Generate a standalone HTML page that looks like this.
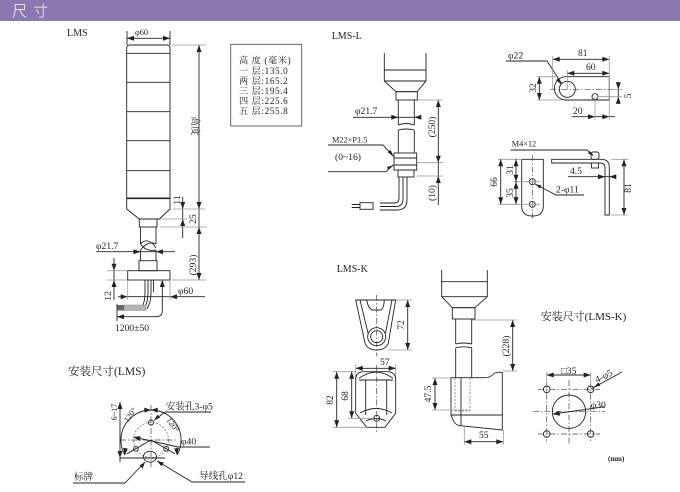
<!DOCTYPE html>
<html><head><meta charset="utf-8"><style>
html,body{margin:0;padding:0;background:#fff;}
svg{display:block;}
text{font-family:"Liberation Serif","Noto Serif CJK SC",serif;fill:#222;}
.s{fill:none;stroke:#222;stroke-width:0.9;}
.g{fill:none;stroke:#999;stroke-width:0.8;}
.d{fill:none;stroke:#444;stroke-width:0.7;stroke-dasharray:6 2 1.5 2;}
.h{fill:none;stroke:#666;stroke-width:0.7;stroke-dasharray:2 1.5;}
.a{fill:#222;stroke:none;}
.t9{font-size:9.6px;}
.t8{font-size:8.3px;}
</style></head><body>
<svg width="680" height="492" viewBox="0 0 680 492" xmlns="http://www.w3.org/2000/svg">
<rect x="0" y="0" width="680" height="492" fill="#fff"/>
<!-- header -->
<rect x="0" y="0" width="680" height="21" fill="#8a79b1"/>
<text x="12" y="16" style="font-family:'Noto Sans CJK SC',sans-serif;font-size:15px;font-weight:300;fill:#fff;">尺</text>
<text x="33" y="16" style="font-family:'Noto Sans CJK SC',sans-serif;font-size:15px;font-weight:300;fill:#fff;">寸</text>

<!-- ===== LMS ===== -->
<text x="67" y="36" style="font-size:10px">LMS</text>
<!-- tower -->
<path class="s" d="M126.7,48 Q126.7,45 129.7,45 L167,45 Q170,45 170,48 L170,209 L159.3,219 L139.3,219 L126.7,209 Z"/>
<g class="s"><line x1="126.7" y1="53.3" x2="170" y2="53.3"/><line x1="126.7" y1="82.3" x2="170" y2="82.3"/><line x1="126.7" y1="111.7" x2="170" y2="111.7"/><line x1="126.7" y1="140.7" x2="170" y2="140.7"/><line x1="126.7" y1="170.7" x2="170" y2="170.7"/><line x1="126.7" y1="198.3" x2="170" y2="198.3" style="stroke-width:1.6"/></g>
<rect class="s" x="139.3" y="219" width="17.7" height="8"/>
<path class="s" d="M140.5,227 L140.5,244 M156,227 L156,244 M140.5,250 L140.5,260.7 M156,250 L156,260.7"/>
<path class="s" d="M140.5,244 Q148,236 156,248 M140.5,250 Q148,240 156,244 M140.5,244 Q146,252 156,250"/>
<rect class="s" x="139" y="260.7" width="18" height="10"/>
<rect class="s" x="127.7" y="270.7" width="42.3" height="9.3"/>
<path class="s" d="M145,280 L145,293 Q145,300 143,305 M148,280 L148,293 Q148,301 145,307 M151,280 L151,293 Q151,302 147,309 M153.5,280 L153.5,292"/>
<rect x="124" y="305" width="22" height="5.5" fill="#b5b5b5" stroke="#888" stroke-width="0.5"/>
<rect x="117" y="305" width="7" height="5.5" fill="#666"/>
<!-- dims LMS -->
<g class="s">
<line x1="127" y1="38.3" x2="170" y2="38.3"/><line x1="127" y1="31" x2="127" y2="45"/><line x1="170" y1="31" x2="170" y2="45"/>
<line x1="199" y1="45" x2="199" y2="280"/>
<line x1="182.7" y1="197" x2="182.7" y2="238"/>
<line x1="96" y1="251.7" x2="175" y2="251.7"/>
<line x1="114" y1="258" x2="114" y2="300"/>
<line x1="118" y1="296.7" x2="205" y2="296.7"/>
<path d="M162.3,280 L162.3,311 Q162.3,316.7 156,316.7 L117,316.7"/>
<line x1="117" y1="304" x2="117" y2="321"/>
</g>
<g class="g">
<line x1="172" y1="45" x2="206" y2="45"/>
<line x1="173" y1="209" x2="205" y2="209"/>
<line x1="160" y1="219" x2="187" y2="219"/>
<line x1="160" y1="227" x2="207" y2="227"/>
<line x1="172" y1="280" x2="206" y2="280"/>
<line x1="107" y1="270.7" x2="127" y2="270.7"/><line x1="107" y1="280" x2="127" y2="280"/>
<line x1="127.7" y1="280" x2="127.7" y2="300"/><line x1="170" y1="280" x2="170" y2="300"/>
</g>
<g class="a">
<polygon points="127,38.3 134,35.8 134,40.8"/><polygon points="170,38.3 163,35.8 163,40.8"/>
<polygon points="199,45 196.5,52 201.5,52"/><polygon points="199,209 196.5,202 201.5,202"/>
<polygon points="199,227 196.5,234 201.5,234"/><polygon points="199,280 196.5,273 201.5,273"/>
<polygon points="182.7,209 180.2,202 185.2,202"/><polygon points="182.7,219 180.2,226 185.2,226"/>
<polygon points="140.5,251.7 133.5,249.2 133.5,254.2"/><polygon points="156,251.7 163,249.2 163,254.2"/>
<polygon points="114,270.7 111.5,263.7 116.5,263.7"/><polygon points="114,280 111.5,287 116.5,287"/>
<polygon points="127.7,296.7 120.7,294.2 120.7,299.2"/><polygon points="170,296.7 177,294.2 177,299.2"/>
<polygon points="162.3,280 159.8,287 164.8,287"/><polygon points="117,316.7 124,314.2 124,319.2"/>
</g>
<text x="135" y="35" class="t8">φ60</text>
<text transform="translate(192,126) rotate(90)" class="t9" text-anchor="middle" style="font-family:'Noto Serif CJK SC',serif">高度</text>
<text transform="translate(180,200) rotate(-90)" class="t9" text-anchor="middle">11</text>
<text transform="translate(196,219) rotate(-90)" class="t9" text-anchor="middle">25</text>
<text transform="translate(196,265) rotate(-90)" class="t9" text-anchor="middle">(293)</text>
<text x="96" y="249" class="t9">φ21.7</text>
<text transform="translate(111,296) rotate(-90)" class="t9" text-anchor="middle">12</text>
<text x="178" y="294" class="t9">φ60</text>
<text x="115" y="331" class="t9">1200±50</text>
<!-- table -->
<rect x="230.7" y="44.3" width="71" height="81.7" fill="none" stroke="#555" stroke-width="0.9"/>
<g style="font-size:9.2px;letter-spacing:0.6px">
<text x="239" y="63.5">高 度 (毫米)</text>
<text x="239" y="73.8">一 层:135.0</text>
<text x="239" y="83.8">两 层:165.2</text>
<text x="239" y="93.8">三 层:195.4</text>
<text x="239" y="103.8">四 层:225.6</text>
<text x="239" y="114">五 层:255.8</text>
</g>

<!-- ===== LMS-L ===== -->
<text x="331.7" y="39" style="font-size:10px">LMS-L</text>
<path class="s" d="M384.3,53 L384.3,81 L396,91.7 L417.3,91.7 L426,81 L426,53 M384.3,70 L426,70 M384.3,81 L426,81"/>
<rect class="s" x="396" y="91.7" width="21.3" height="8.3"/>
<path class="s" d="M398.3,100 L398.3,125 M414.3,100 L414.3,125 M398.3,125 Q406,122 414.3,125 M398.3,130 Q406,128 414.3,130 M398.3,130 L398.3,153 M414.3,130 L414.3,153"/>
<rect class="s" x="394" y="153" width="22.7" height="17"/>
<path class="s" d="M394,158 L416.7,158 M394,165 L416.7,165"/>
<rect class="s" x="398" y="170" width="16" height="7"/>
<path class="s" d="M399,177 L399,198 Q399,203 394,203 L380,203 M403,177 L403,199 Q403,206.5 396,206.5 L380,206.5 M407,177 L407,200 Q407,210 397,210 L380,210"/>
<rect class="s" x="360" y="202.7" width="13" height="6.6"/>
<path class="s" d="M351.7,204.5 L360,204.5 M351.7,207.5 L360,207.5"/>
<g class="s">
<line x1="353" y1="117.3" x2="420" y2="117.3"/>
<line x1="438.3" y1="100" x2="438.3" y2="205"/>
<path d="M328,145 L383,145 L393,156"/>
<path d="M328,171.7 L386,171.7 L393,165"/>
</g>
<g class="g">
<line x1="418" y1="100" x2="443" y2="100"/><line x1="417" y1="162.7" x2="443" y2="162.7"/><line x1="417" y1="176" x2="443" y2="176"/>
</g>
<g class="a">
<polygon points="398.3,117.3 391.3,114.8 391.3,119.8"/><polygon points="414.3,117.3 421.3,114.8 421.3,119.8"/>
<polygon points="438.3,100 435.8,107 440.8,107"/><polygon points="438.3,162.7 435.8,155.7 440.8,155.7"/><polygon points="438.3,176 435.8,183 440.8,183"/>
<polygon points="394,157 387.5,152 390.5,150"/><polygon points="394,165 387,167 388,170"/>
</g>
<text x="355" y="114" class="t9">φ21.7</text>
<text x="332" y="142.5" class="t8">M22×P1.5</text>
<text x="335" y="160" class="t9">(0~16)</text>
<text transform="translate(435,127) rotate(-90)" class="t9" text-anchor="middle">(250)</text>
<text transform="translate(435,193) rotate(-90)" class="t9" text-anchor="middle">(10)</text>

<!-- bracket top view -->
<path class="s" d="M609.3,76.7 L565,76.7 A11.7,11.7 0 0 0 565,100 L609.3,100 Z"/>
<circle class="s" cx="567.3" cy="89.3" r="8"/>
<circle class="s" cx="595" cy="96.7" r="3"/>
<line class="d" x1="550" y1="89.3" x2="617" y2="89.3"/>
<g class="s">
<line x1="552.7" y1="59.3" x2="609.3" y2="59.3"/>
<line x1="567.3" y1="73.3" x2="609.3" y2="73.3"/>
<line x1="539.3" y1="76.7" x2="539.3" y2="100"/>
<line x1="571.7" y1="116.7" x2="615" y2="116.7"/>
<line x1="618.3" y1="82" x2="618.3" y2="104"/>
<path d="M506,61 L547,61 L562,84"/>
</g>
<g class="g">
<line x1="552.7" y1="56" x2="552.7" y2="90"/><line x1="609.3" y1="56" x2="609.3" y2="120"/>
<line x1="567.3" y1="70" x2="567.3" y2="89"/>
<line x1="537" y1="76.7" x2="557" y2="76.7"/><line x1="537" y1="100" x2="562" y2="100"/>
<line x1="598" y1="96.7" x2="622" y2="96.7"/><line x1="612" y1="89.3" x2="622" y2="89.3"/>
<line x1="595" y1="97" x2="595" y2="120"/>
</g>
<g class="a">
<polygon points="552.7,59.3 559.7,56.8 559.7,61.8"/><polygon points="609.3,59.3 602.3,56.8 602.3,61.8"/>
<polygon points="567.3,73.3 574.3,70.8 574.3,75.8"/><polygon points="609.3,73.3 602.3,70.8 602.3,75.8"/>
<polygon points="539.3,76.7 536.8,83.7 541.8,83.7"/><polygon points="539.3,100 536.8,93 541.8,93"/>
<polygon points="595,116.7 588,114.2 588,119.2"/><polygon points="609.3,116.7 602.3,114.2 602.3,119.2"/>
<polygon points="618.3,89.3 615.8,82.3 620.8,82.3"/><polygon points="618.3,96.7 615.8,103.7 620.8,103.7"/>
<polygon points="562,85 556,80 559,78"/>
</g>
<text x="508" y="58.5" class="t9">φ22</text>
<text x="578" y="56" class="t9">81</text>
<text x="586" y="70" class="t9">60</text>
<text transform="translate(536,88) rotate(-90)" class="t9" text-anchor="middle">32</text>
<text x="573" y="114" class="t9">20</text>
<text transform="translate(631,96) rotate(-90)" class="t9" text-anchor="middle">5</text>

<!-- bracket side views -->
<path class="s" d="M521.7,159.3 L543.3,159.3 L543.3,206 Q543.3,216 533,216 L532,216 Q521.7,216 521.7,206 Z"/>
<circle class="s" cx="532.3" cy="181.7" r="3"/>
<circle class="s" cx="532.3" cy="204.3" r="3"/>
<line class="d" x1="532.3" y1="155" x2="532.3" y2="219"/>
<g class="g"><line x1="498" y1="159.3" x2="522" y2="159.3"/><line x1="513" y1="181.7" x2="540" y2="181.7"/><line x1="498" y1="204.3" x2="540" y2="204.3"/></g>
<g class="s">
<line x1="500.7" y1="159.3" x2="500.7" y2="204.3"/>
<line x1="516" y1="159.3" x2="516" y2="204.3"/>
<path d="M584,195 L556,195 L535,184"/>
<path d="M551.7,159.3 L601,159.3 Q609.3,159.3 609.3,167 L609.3,215 L605,215 L605,168 Q605,163 600,163 L551.7,163 Z"/>
<rect x="591" y="152" width="8" height="7.3" rx="2"/>
<rect x="591.5" y="163" width="7" height="5"/>
<line x1="568" y1="176.7" x2="615" y2="176.7"/>
<line x1="624" y1="159.3" x2="624" y2="215"/>
<path d="M510.7,150 L587,150 L593,155"/>
</g>
<g class="g"><line x1="611" y1="159.3" x2="628" y2="159.3"/><line x1="611" y1="215" x2="628" y2="215"/></g>
<g class="a">
<polygon points="500.7,159.3 498.2,166.3 503.2,166.3"/><polygon points="500.7,204.3 498.2,197.3 503.2,197.3"/>
<polygon points="516,159.3 513.5,166.3 518.5,166.3"/><polygon points="516,181.7 513.5,174.7 518.5,174.7"/>
<polygon points="516,181.7 513.5,188.7 518.5,188.7"/><polygon points="516,204.3 513.5,197.3 518.5,197.3"/>
<polygon points="535,184 540,188.5 541.5,185.5"/>
<polygon points="605,176.7 598,174.2 598,179.2"/><polygon points="609.3,176.7 616.3,174.2 616.3,179.2"/>
<polygon points="624,159.3 621.5,166.3 626.5,166.3"/><polygon points="624,215 621.5,208 626.5,208"/>
<polygon points="594,156 588,153.5 589.5,151"/>
</g>
<text x="511.7" y="146.5" class="t8">M4×12</text>
<text transform="translate(497,182) rotate(-90)" class="t9" text-anchor="middle">66</text>
<text transform="translate(513,170) rotate(-90)" class="t9" text-anchor="middle">31</text>
<text transform="translate(513,193) rotate(-90)" class="t9" text-anchor="middle">35</text>
<text x="556" y="192.5" class="t9">2-φ11</text>
<text x="570" y="174" class="t9">4.5</text>
<text transform="translate(631,188) rotate(-90)" class="t9" text-anchor="middle">81</text>

<!-- ===== LMS-K ===== -->
<text x="336.7" y="272" style="font-size:10px">LMS-K</text>
<!-- top view -->
<path class="s" d="M355.7,300 L395.7,300 L388.3,343 Q386,350 376.7,350 Q367.4,350 365,343 Z"/>
<path class="s" d="M360,300 L368,333 M392,300 L385.5,333 M366.7,300 Q368,308 372,310 L381,310 Q384,308 384.3,300"/>
<circle class="s" cx="376.7" cy="336.7" r="9"/>
<circle class="s" cx="376.7" cy="336.7" r="6"/>
<line class="d" x1="376.7" y1="295" x2="376.7" y2="356"/>
<g class="s"><line x1="407.7" y1="300" x2="407.7" y2="350"/><line x1="355.7" y1="368.3" x2="395.7" y2="368.3"/></g>
<g class="g"><line x1="396" y1="300" x2="412" y2="300"/><line x1="388" y1="350" x2="412" y2="350"/><line x1="355.7" y1="364" x2="355.7" y2="380"/><line x1="395.7" y1="364" x2="395.7" y2="380"/></g>
<g class="a">
<polygon points="407.7,300 405.2,307 410.2,307"/><polygon points="407.7,350 405.2,343 410.2,343"/>
<polygon points="355.7,368.3 362.7,365.8 362.7,370.8"/><polygon points="395.7,368.3 388.7,365.8 388.7,370.8"/>
</g>
<text transform="translate(404,325) rotate(-90)" class="t9" text-anchor="middle">72</text>
<text x="380" y="365" class="t9">57</text>
<!-- front view -->
<path class="s" d="M355.7,380 Q355.7,371.7 364,371.7 L387.4,371.7 Q395.7,371.7 395.7,380 L395.7,413.3 L385,427.3 L366.7,427.3 L355.7,413.3 Z"/>
<path class="s" d="M359,378.3 Q376,366 393,378.3 M359,380 L393,380 M365.7,380 L365.7,415 M386.7,380 L386.7,415 M360,413 Q376,404 392,413 M366,421 Q376,416 386,421"/>
<circle class="s" cx="376.7" cy="418.3" r="3"/>
<line class="d" x1="376.7" y1="365" x2="376.7" y2="432"/>
<g class="s"><line x1="336.7" y1="371.7" x2="336.7" y2="427.3"/><line x1="351.7" y1="371.7" x2="351.7" y2="418.3"/></g>
<g class="g"><line x1="333" y1="371.7" x2="356" y2="371.7"/><line x1="333" y1="427.3" x2="367" y2="427.3"/><line x1="348" y1="418.3" x2="374" y2="418.3"/></g>
<g class="a">
<polygon points="336.7,371.7 334.2,378.7 339.2,378.7"/><polygon points="336.7,427.3 334.2,420.3 339.2,420.3"/>
<polygon points="351.7,371.7 349.2,378.7 354.2,378.7"/><polygon points="351.7,418.3 349.2,411.3 354.2,411.3"/>
</g>
<text transform="translate(333,400) rotate(-90)" class="t9" text-anchor="middle">82</text>
<text transform="translate(348,396) rotate(-90)" class="t9" text-anchor="middle">68</text>
<!-- side view K -->
<path class="s" d="M441.7,270 L441.7,296.7 L452.3,307.7 L475,307.7 L487.3,296.7 L487.3,270 M441.7,281.7 L487.3,281.7 M441.7,296.7 L487.3,296.7"/>
<rect class="s" x="452.3" y="307.7" width="22.7" height="11.3"/>
<path class="s" d="M455.7,319 L455.7,344 M471.7,319 L471.7,344 M455.7,344 Q463,342 471.7,344 M455.7,347.7 Q463,346 471.7,347.7 M455.7,347.7 L455.7,378 M471.7,347.7 L471.7,378"/>
<path class="s" d="M451,377.7 L485,377.7 Q490,377.7 493,374.5 Q495,372.3 498,372.3 L502.3,372.3 L502.3,430 L460,425.7 Q455,425 453,420 L451,415 Z"/>
<path class="s" d="M461,377.7 L461,425.7 M451,415 L502.3,415"/>
<path class="h" d="M455,378 L455,411 M470,378 L470,411 M455,411 L470,411"/>
<g class="s"><line x1="512.7" y1="320" x2="512.7" y2="371"/><line x1="435" y1="378" x2="435" y2="410"/><line x1="464.3" y1="441.7" x2="503.3" y2="441.7"/></g>
<g class="g"><line x1="472" y1="320" x2="517" y2="320"/><line x1="503" y1="371" x2="517" y2="371"/><line x1="432" y1="378" x2="451" y2="378"/><line x1="432" y1="410" x2="470" y2="410"/><line x1="464.3" y1="425" x2="464.3" y2="445"/><line x1="503.3" y1="430" x2="503.3" y2="445"/></g>
<g class="a">
<polygon points="512.7,320 510.2,327 515.2,327"/><polygon points="512.7,371 510.2,364 515.2,364"/>
<polygon points="435,378 432.5,385 437.5,385"/><polygon points="435,410 432.5,403 437.5,403"/>
<polygon points="464.3,441.7 471.3,439.2 471.3,444.2"/><polygon points="503.3,441.7 496.3,439.2 496.3,444.2"/>
</g>
<text transform="translate(509,346) rotate(-90)" class="t9" text-anchor="middle">(228)</text>
<text transform="translate(431,394) rotate(-90)" class="t9" text-anchor="middle">47.5</text>
<text x="479" y="438" class="t9">55</text>

<!-- install LMS-K -->
<text x="540.7" y="320" style="font-size:11px;font-family:'Liberation Serif','Noto Serif CJK SC',serif">安装尺寸(LMS-K)</text>
<g class="d">
<line x1="538" y1="389.3" x2="600" y2="389.3"/><line x1="538" y1="434" x2="600" y2="434"/><line x1="533" y1="411.7" x2="605" y2="411.7"/>
<line x1="546.7" y1="382" x2="546.7" y2="441"/><line x1="590.7" y1="382" x2="590.7" y2="441"/><line x1="569" y1="380" x2="569" y2="445"/>
</g>
<g class="s">
<circle cx="546.7" cy="389.3" r="3.3"/><circle cx="590.7" cy="389.3" r="3.3"/><circle cx="546.7" cy="434" r="3.3"/><circle cx="590.7" cy="434" r="3.3"/>
<circle cx="569" cy="411.7" r="16.7"/>
<line x1="546.7" y1="375" x2="590.7" y2="375"/>
<line x1="591" y1="389" x2="622" y2="372"/>
<line x1="553.3" y1="414" x2="605" y2="406.7"/>
</g>
<g class="g"><line x1="546.7" y1="372" x2="546.7" y2="386"/><line x1="590.7" y1="372" x2="590.7" y2="386"/></g>
<g class="a">
<polygon points="546.7,375 553.7,372.5 553.7,377.5"/><polygon points="590.7,375 583.7,372.5 583.7,377.5"/>
<polygon points="593.5,387.6 598.5,382.3 600.3,385.6"/>
<polygon points="552.5,414.1 559.3,410.8 560,415.7"/>
</g>
<text x="561" y="374" class="t9">□35</text>
<text transform="translate(597,383) rotate(-27)" class="t9">4-φ5</text>
<text x="590.7" y="408" class="t9">φ30</text>
<text x="608" y="461" style="font-size:7px;font-weight:bold">(mm)</text>

<!-- install LMS -->
<text x="68" y="375" style="font-size:11.5px;font-family:'Liberation Serif','Noto Serif CJK SC',serif">安装尺寸(LMS)</text>
<circle class="h" cx="151" cy="440" r="17.5"/>
<g class="d"><line x1="120" y1="440" x2="177" y2="440"/><line x1="151" y1="405" x2="151" y2="467"/></g>
<g class="s">
<circle cx="151" cy="422.5" r="2.5"/><circle cx="135.8" cy="448.8" r="2.5"/><circle cx="166.2" cy="448.8" r="2.5"/>
<path d="M125,455.1 A30,30 0 0 1 151,410 A30,30 0 0 1 177,455.1"/>
<line x1="151" y1="440" x2="127" y2="453.8"/><line x1="151" y1="440" x2="175" y2="453.8"/>
<path d="M133.5,437 L178,447 L210,447"/>
<ellipse cx="150" cy="456.7" rx="6.5" ry="5.5"/>
<line x1="120" y1="402" x2="120" y2="462"/>
<line x1="120" y1="458" x2="165" y2="458"/>
<path d="M211,412 L165,412 L154,420.5"/>
<path d="M73,483 L125,483 L145,462"/>
<path d="M245,482 L192,482 L157,461"/>
</g>
<g class="a">
<polygon points="125,455.1 123,447.8 127.8,448.6"/><polygon points="177,455.1 174.2,448.6 179,447.8"/>
<polygon points="151,410 144.2,407.6 144.5,412.6"/><polygon points="151,410 157.8,407.6 157.5,412.6"/>
<polygon points="133.5,437 140.6,436.1 139.5,441"/>
<polygon points="120,402 117.5,409 122.5,409"/><polygon points="120,458 117.5,451 122.5,451"/>
<polygon points="154,420.5 157.5,414.5 160,417.5"/>
<polygon points="145,462 142.7,468.5 139.5,465.5"/>
<polygon points="157,461 163.8,462.5 161.5,466.3"/>
</g>
<text transform="translate(117,412) rotate(-90)" class="t8" text-anchor="middle">6~17</text>
<text transform="translate(128,423) rotate(-55)" class="t8">120°</text>
<text transform="translate(166,420) rotate(55)" class="t8">120°</text>
<text x="165.7" y="409.5" class="t9">安装孔3-φ5</text>
<text x="181" y="444.5" class="t9">φ40</text>
<text x="74" y="480" class="t9">标牌</text>
<text x="199" y="479" class="t9">导线孔φ12</text>
</svg>
</body></html>
